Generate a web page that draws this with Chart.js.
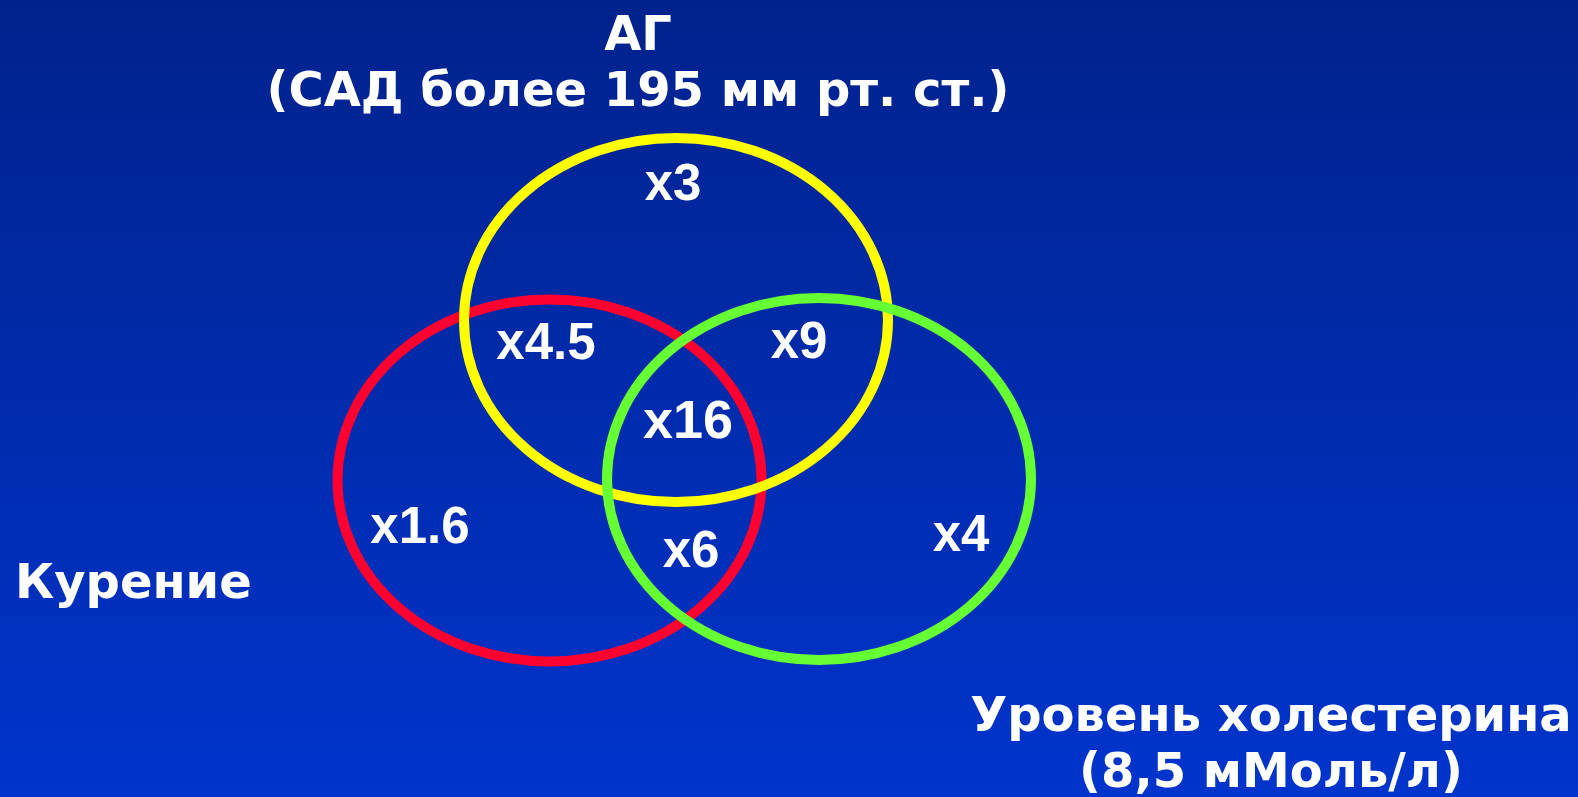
<!DOCTYPE html>
<html>
<head>
<meta charset="utf-8">
<script src="https://cdn.jsdelivr.net/npm/chart.js@4.4.1/dist/chart.umd.min.js"></script>
<style>
    html, body { margin: 0; padding: 0; overflow: hidden; background: #002aa8; }
    canvas { display: block; }
</style>
</head>
<body>
<canvas id="venn" width="1578" height="797"></canvas>
<script>
// three risk factors (the circles) and their captions
const factors = ['Курение', 'АГ', 'Уровень холестерина']
const factorNotes = ['', '(САД более 195 мм рт. ст.)', '(8,5 мМоль/л)']

// relative risk in every region of the diagram
const regions = ['Курение', 'АГ', 'Холестерин', 'Курение + АГ', 'АГ + Холестерин', 'Курение + Холестерин', 'Все три']
const riskLabels = ['x1.6', 'x3', 'x4', 'x4.5', 'x9', 'x6', 'x16']

// diagram layout, in canvas units (axis 0..1578 x 0..797)
const circleLayout = [
    {x: 549.5, y: 480.5, rx: 212, ry: 181},
    {x: 676, y: 320, rx: 212, ry: 182},
    {x: 819, y: 479, rx: 212, ry: 181},
]
const regionLayout = [
    {x: 420, y: 543}, {x: 673, y: 200}, {x: 961, y: 551},
    {x: 546, y: 359}, {x: 799, y: 358}, {x: 691, y: 567}, {x: 688, y: 438},
]
const captionLayout = [
    {x: 15, y: 598, align: 'left'},
    {x: 638, y: 50, align: 'center'},
    {x: 1271, y: 731, align: 'center'},
]
const circleColors = ['#ff0030', '#ffff00', '#66ff33']

const vennPlugin = {
    id: 'venn',
    beforeDraw(chart) {
        let ctx = chart.ctx
        let g = ctx.createLinearGradient(0, 0, 0, chart.height)
        g.addColorStop(0, '#00228c')
        g.addColorStop(1, '#0034cc')
        ctx.save()
        ctx.fillStyle = g
        ctx.fillRect(0, 0, chart.width, chart.height)
        ctx.restore()
    },
    afterDatasetsDraw(chart) {
        let ctx = chart.ctx
        let xs = chart.scales.x
        let ys = chart.scales.y
        ctx.save()

        // circles
        factors.forEach((name, i) => {
            let pt = chart.getDatasetMeta(i).data[0]
            let c = circleLayout[i]
            let rx = Math.abs(xs.getPixelForValue(c.x + c.rx) - xs.getPixelForValue(c.x))
            let ry = Math.abs(ys.getPixelForValue(c.y + c.ry) - ys.getPixelForValue(c.y))
            ctx.beginPath()
            ctx.ellipse(pt.x, pt.y, rx, ry, 0, 0, Math.PI * 2)
            ctx.lineWidth = 10
            ctx.strokeStyle = circleColors[i]
            ctx.stroke()
        })

        // risk values
        ctx.fillStyle = '#ffffff'
        ctx.textAlign = 'center'
        ctx.textBaseline = 'alphabetic'
        let riskMeta = chart.getDatasetMeta(factors.length)
        riskLabels.forEach((label, j) => {
            let pt = riskMeta.data[j]
            ctx.font = 'bold ' + (label === 'x16' ? 54 : 51) + 'px "Liberation Sans", Arial, sans-serif'
            ctx.fillText(label, pt.x, pt.y)
        })

        // factor captions
        ctx.font = 'bold 48px "DejaVu Sans", Verdana, sans-serif'
        factors.forEach((name, i) => {
            let c = captionLayout[i]
            let px = xs.getPixelForValue(c.x)
            let py = ys.getPixelForValue(c.y)
            ctx.textAlign = c.align
            ctx.fillText(name, px, py)
            if (factorNotes[i]) ctx.fillText(factorNotes[i], px, py + 56)
        })
        ctx.restore()
    }
}

let datasets = factors.map((name, i) => ({
    label: name,
    data: [{x: circleLayout[i].x, y: circleLayout[i].y}],
    pointRadius: 0,
}))
datasets.push({
    label: 'Относительный риск',
    data: regionLayout.map((p, j) => ({x: p.x, y: p.y, region: regions[j]})),
    pointRadius: 0,
})

new Chart(document.getElementById('venn'), {
    type: 'scatter',
    data: {datasets: datasets},
    options: {
        responsive: false,
        animation: false,
        layout: {padding: 0},
        scales: {
            x: {type: 'linear', min: 0, max: 1578, display: false},
            y: {type: 'linear', min: 0, max: 797, reverse: true, display: false},
        },
        plugins: {
            legend: {display: false},
            tooltip: {enabled: false},
        }
    },
    plugins: [vennPlugin]
})
</script>
</body>
</html>
